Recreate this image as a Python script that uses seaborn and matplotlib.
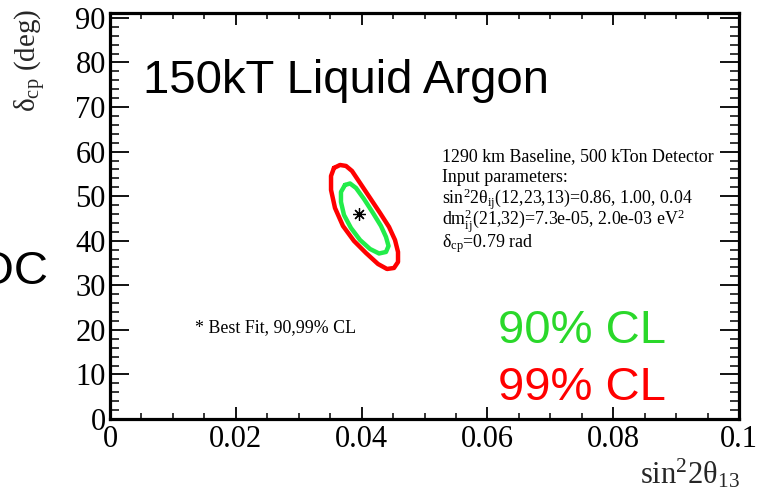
import matplotlib
matplotlib.use("Agg")
import matplotlib.pyplot as plt
from matplotlib.ticker import MultipleLocator, FixedLocator, FixedFormatter
import seaborn as sns
import pandas as pd

# Confidence-level contours in the (sin^2 2theta13, delta_cp) plane
cl99_x = [0.03561, 0.03657, 0.03752, 0.03847, 0.03975, 0.04134, 0.04293, 0.04436,
          0.04531, 0.04579, 0.04579, 0.04515, 0.04404, 0.04261, 0.04070, 0.03879,
          0.03704, 0.03577, 0.03514, 0.03514, 0.03561]
cl99_y = [56.33, 57.00, 56.78, 55.66, 52.96, 49.60, 46.23, 43.09,
          40.17, 37.48, 35.23, 33.89, 33.66, 34.78, 37.25, 39.95,
          43.31, 47.35, 51.39, 54.53, 56.33]

cl90_x = [0.03736, 0.03816, 0.03911, 0.04038, 0.04181, 0.04308, 0.04388, 0.04428,
          0.04388, 0.04277, 0.04134, 0.03975, 0.03831, 0.03720, 0.03672, 0.03672,
          0.03736]
cl90_y = [52.51, 52.85, 51.84, 49.37, 46.23, 43.31, 40.84, 38.82,
          37.48, 37.14, 38.15, 40.17, 42.86, 45.78, 48.70, 50.94,
          52.51]

best_fit_x = [0.0396]
best_fit_y = [46.0]

xtick_values = [0.0, 0.02, 0.04, 0.06, 0.08, 0.1]
xtick_labels = ["0", "0.02", "0.04", "0.06", "0.08", "0.1"]
ytick_values = [0, 10, 20, 30, 40, 50, 60, 70, 80, 90]
ytick_labels = ["0", "10", "20", "30", "40", "50", "60", "70", "80", "90"]

info_lines = [
    "1290 km Baseline, 500 kTon Detector",
    "Input parameters:",
    r"sin$^{2}$2θ$_{\rm ij}$(12,23,13)=0.86, 1.00, 0.04",
    r"dm$^{2}_{\rm ij}$(21,32)=7.3e-05, 2.0e-03 eV$^{2}$",
    r"δ$_{\rm cp}$=0.79 rad",
]
info_y = [58.8, 54.1, 49.3, 44.3, 39.4]

sns.set_theme(style="ticks")
plt.rcParams["font.family"] = ["Liberation Serif", "DejaVu Serif"]
plt.rcParams["mathtext.fontset"] = "custom"
plt.rcParams["mathtext.rm"] = "Liberation Serif"
plt.rcParams["mathtext.it"] = "Liberation Serif:italic"
plt.rcParams["mathtext.bf"] = "Liberation Serif:bold"

GREEN_LINE = "#22ec4a"
GREEN_TEXT = "#2ad82a"
RED = "#ff0000"

fig = plt.figure(figsize=(7.7, 4.92), dpi=100)
ax = fig.add_axes([110 / 770, 1 - 419 / 492, (739 - 110) / 770, (419 - 13) / 492])

c99 = pd.DataFrame({"s13": cl99_x, "dcp": cl99_y})
c90 = pd.DataFrame({"s13": cl90_x, "dcp": cl90_y})
sns.lineplot(data=c99, x="s13", y="dcp", sort=False, estimator=None,
             color=RED, linewidth=3.2, ax=ax)
sns.lineplot(data=c90, x="s13", y="dcp", sort=False, estimator=None,
             color=GREEN_LINE, linewidth=3.2, ax=ax)
ax.plot(best_fit_x, best_fit_y, linestyle="none", marker=(8, 2, 0),
        markersize=9, markeredgewidth=0.9, color="black")

ax.set_xlim(0, 0.1)
ax.set_ylim(0, 91.1)

ax.xaxis.set_major_locator(FixedLocator(xtick_values))
ax.xaxis.set_major_formatter(FixedFormatter(xtick_labels))
ax.xaxis.set_minor_locator(MultipleLocator(0.005))
ax.yaxis.set_major_locator(FixedLocator(ytick_values))
ax.yaxis.set_major_formatter(FixedFormatter(ytick_labels))
ax.yaxis.set_minor_locator(MultipleLocator(2))

ax.tick_params(axis="x", which="major", direction="in", length=8.6, width=1.3,
               top=True, bottom=True, labelsize=22, pad=4, colors="black")
ax.tick_params(axis="x", which="minor", direction="in", length=4.3, width=1.3,
               top=True, bottom=True)
ax.tick_params(axis="y", which="major", direction="in", length=13.7, width=1.3,
               left=True, right=True, labelsize=22, pad=3, colors="black")
ax.tick_params(axis="y", which="minor", direction="in", length=6.8, width=1.3,
               left=True, right=True)

for sp in ax.spines.values():
    sp.set_visible(True)
    sp.set_linewidth(2.3)
    sp.set_color("black")

ax.set_xlabel("")
ax.set_ylabel("")
ax.grid(False)

# axis titles placed at the axis ends
fig.text(740 / 770, 1 - 490 / 492, r"sin$^{2}$2θ$_{13}$", ha="right", va="bottom",
         fontsize=22)
fig.text(30 / 770, 1 - 9 / 492, r"δ$_{\rm cp}$ (deg)", rotation=90, ha="center",
         va="top", fontsize=21)

# parameter block
for line, yv in zip(info_lines, info_y):
    ax.text(0.0528, yv, line, fontsize=12.9, ha="left", va="center", color="black")

ax.text(0.0135, 20.6, "* Best Fit, 90,99% CL", fontsize=12.9, ha="left",
        va="center", color="black")

# large overlay labels
sans = ["Liberation Sans", "DejaVu Sans"]
fig.text(143 / 770, 1 - 93 / 492, "150kT Liquid Argon", family=sans, fontsize=34,
         ha="left", va="baseline", color="black")
fig.text(498 / 770, 1 - 343 / 492, "90% CL", family=sans, fontsize=34,
         ha="left", va="baseline", color=GREEN_TEXT)
fig.text(498 / 770, 1 - 400 / 492, "99% CL", family=sans, fontsize=34,
         ha="left", va="baseline", color=RED)
fig.text(48 / 770, 1 - 284 / 492, "DOC", family=sans, fontsize=34,
         ha="right", va="baseline", color="black")

fig.savefig("out.png", dpi=100, facecolor="white")
